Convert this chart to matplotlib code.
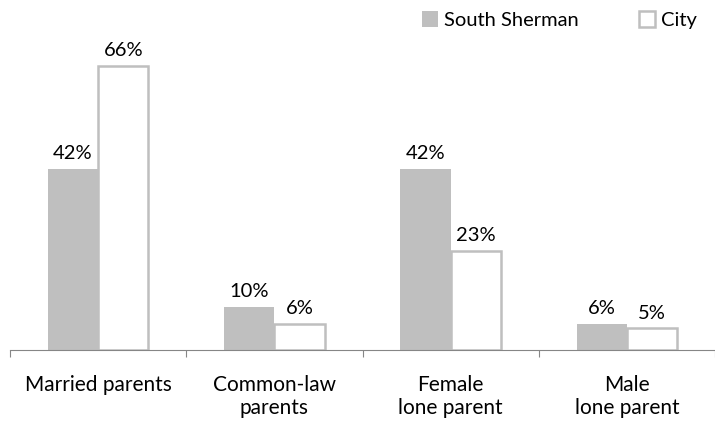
import numpy as np
import matplotlib
matplotlib.use("Agg")
import matplotlib.pyplot as plt

categories = ["Married parents", "Common-law\nparents", "Female\nlone parent", "Male\nlone parent"]
south_sherman = [42, 10, 42, 6]
city = [66, 6, 23, 5]

plt.rcParams['font.family'] = ['Lato', 'DejaVu Sans']

fig = plt.figure(figsize=(7.15, 4.21), dpi=100)
ax = fig.add_axes([10 / 715, 71 / 421, 705 / 715, 340 / 421])

x = np.arange(len(categories))
w = 0.285
grey = "#BFBFBF"
b1 = ax.bar(x - w / 2, south_sherman, w, color=grey, label="South Sherman")
b2 = ax.bar(x + w / 2, city, w, facecolor="white", edgecolor=grey, linewidth=1.8, label="City")

for bars, vals in [(b1, south_sherman), (b2, city)]:
    for b, v in zip(bars, vals):
        ax.annotate(f"{v}%", (b.get_x() + b.get_width() / 2, v), xytext=(0, 5),
                    textcoords="offset points", ha="center", va="bottom", fontsize=14.5)

ax.set_xlim(-0.5, len(categories) - 0.5)
ax.set_ylim(0, 79)
ax.set_yticks([])
for s in ["top", "right", "left"]:
    ax.spines[s].set_visible(False)
ax.spines["bottom"].set_color("#868686")
ax.set_xticks(np.arange(len(categories) + 1) - 0.5, minor=False)
ax.set_xticklabels([])
ax.tick_params(axis="x", length=5, color="#868686", direction="out")
for i, c in enumerate(categories):
    ax.annotate(c, (i, 0), xytext=(0, -18), textcoords="offset points",
                ha="center", va="top", fontsize=15, linespacing=1.2)

ax.legend(loc="upper right", bbox_to_anchor=(1.0, 1.05), ncol=2, frameon=False, fontsize=14.5,
          handlelength=0.8, handleheight=0.8, columnspacing=3.0, handletextpad=0.3)

fig.savefig("out.png", dpi=100)
